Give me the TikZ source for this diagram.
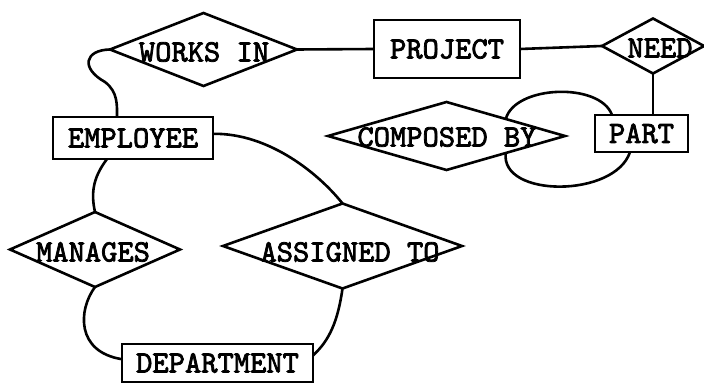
\documentclass[tikz,border=0pt]{standalone}
\usepackage{fontspec}
\newfontfamily\ermono[FakeBold=2.5]{lmmono10-regular.otf}
\usetikzlibrary{shapes.geometric,calc}
\begin{document}
\begin{tikzpicture}[x=0.5pt,y=-0.5pt,
  every node/.style={font=\ermono\fontsize{15.5pt}{18pt}\selectfont},
  ent/.style={draw,line width=1.3pt,inner sep=0pt,outer sep=0pt},
  rel/.style={draw,shape=diamond,line width=1.3pt,inner sep=0pt,outer sep=0pt},
  conn/.style={line width=1.3pt}]
\useasboundingbox (0,0) rectangle (704,384);

% entities
\node[ent,minimum width=80pt,minimum height=21pt] (emp) at (133,138) {EMPLOYEE};
\node[ent,minimum width=73pt,minimum height=29pt] (proj) at (447,49) {PROJECT};
\node[ent,minimum width=46.5pt,minimum height=18.5pt] (part) at (641.5,133.5) {PART};
\node[ent,minimum width=95.5pt,minimum height=19pt] (dept) at (217.5,363) {DEPARTMENT};

% relationships
\node[rel,minimum width=93.5pt,minimum height=36.5pt] (wi) at (203.5,49.5) {};
\node (wit) at (204,52) {WORKS IN};
\node[rel,minimum width=51pt,minimum height=27.5pt] (need) at (653,46) {};
\node (needt) at (660,48) {NEED};
\node[rel,minimum width=118.5pt,minimum height=34pt] (cb) at (446.5,136) {};
\node (cbt) at (447,137) {COMPOSED BY};
\node[rel,minimum width=85pt,minimum height=37.5pt] (mg) at (95,249.5) {};
\node (mgt) at (93,252) {MANAGES};
\node[rel,minimum width=119.5pt,minimum height=42.5pt] (at) at (342.5,246) {};
\node (att) at (350,252) {ASSIGNED TO};

% connectors
\draw[conn] (wi.west) .. controls (85,50) and (80,68) .. (105,82)
  .. controls (118,92) and (117,105) .. ($(emp.north)+(-16,0)$);
\draw[conn] (wi.east) -- (proj.west);
\draw[conn] (proj.east) -- (need.west);
\draw[conn] (need.south) -- (need.south |- part.north);
\draw[conn] ($(cb.north)!0.5!(cb.east)$) .. controls (515,85) and (600,82) .. ($(part.north west)+(17,0)$);
\draw[conn] ($(cb.south)!0.5!(cb.east)$) .. controls (500,198) and (615,198) .. ($(part.south west)+(35,0)$);
\draw[conn] ($(emp.north east)!0.4!(emp.south east)$) .. controls (270,133) and (320,175) .. (at.north);
\draw[conn] ($(emp.south west)+(54,0)$) .. controls (95,175) and (90,190) .. (mg.north);
\draw[conn] (mg.south) .. controls (78,310) and (76,352) .. ($(dept.north west)!0.4!(dept.south west)$);
\draw[conn] (at.south) .. controls (338,320) and (330,340) .. ($(dept.north east)!0.3!(dept.south east)$);
\end{tikzpicture}
\end{document}
